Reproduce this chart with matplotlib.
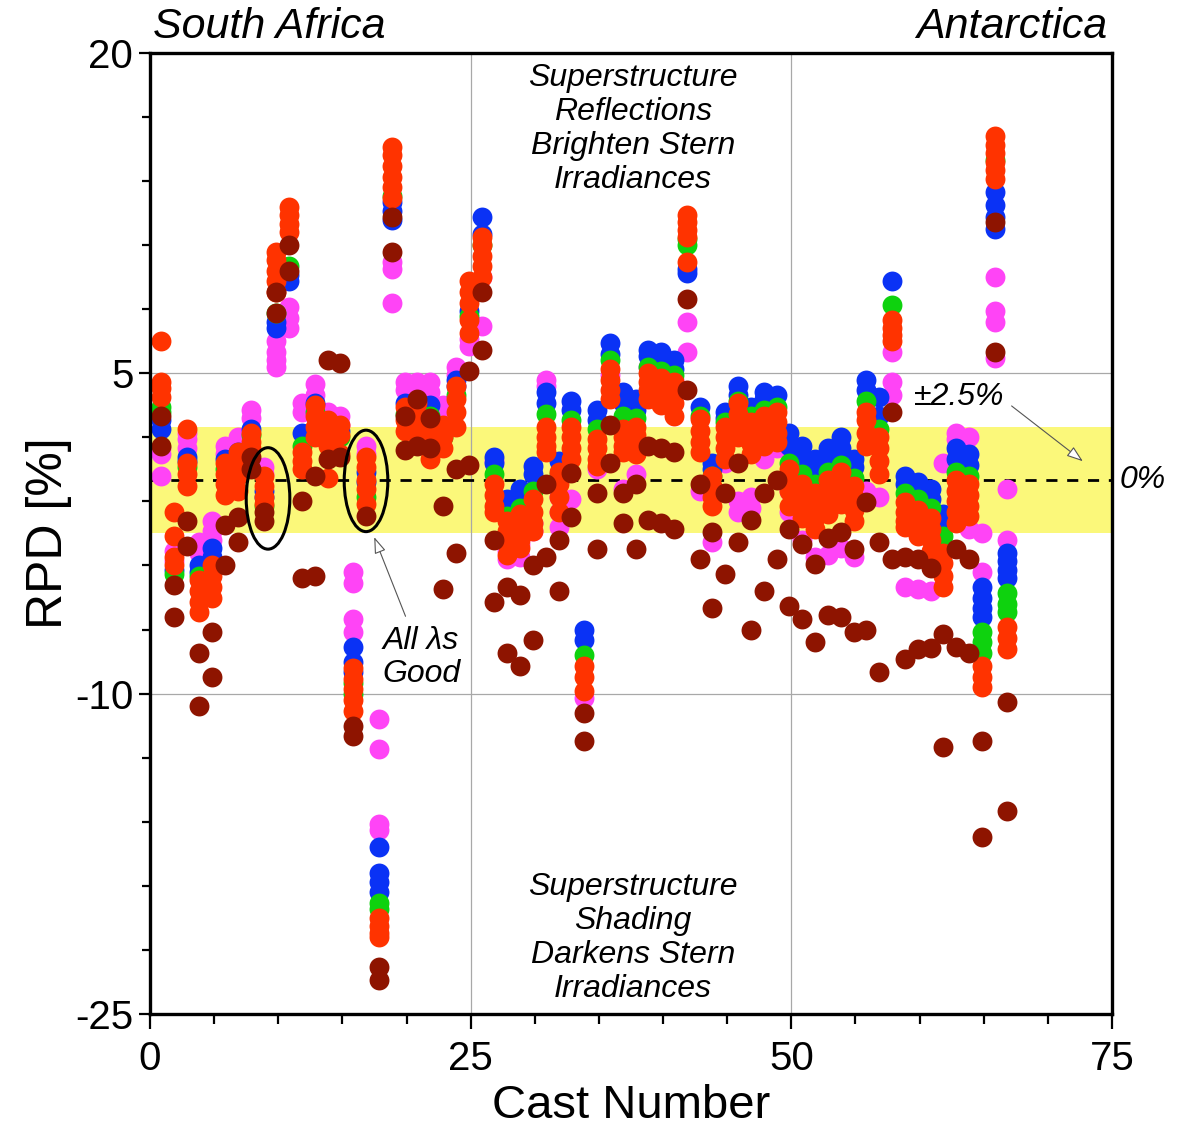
import matplotlib
matplotlib.use('Agg')
import matplotlib.pyplot as plt
import numpy as np
from matplotlib.patches import Ellipse
from matplotlib.ticker import MultipleLocator, FixedLocator

plt.rcParams['font.family'] = ['Liberation Sans', 'DejaVu Sans']
plt.rcParams['axes.unicode_minus'] = False

# cast numbers and RPD values per band group
casts = list(range(1, 68))

magenta = [
  [1.5, 1.2, 0.2], [-3.3, -3.8], [2.2, 1.9, 1.5], [-2.9, -3.4], [-1.9, -2.4, -2.8],
  [1.6, 1.2], [2.0, 1.6], [3.3, 2.9], [0.6, 0.3], [6.5, 6.0, 5.6, 5.3],
  [8.1, 7.6, 7.1], [3.6, 3.2], [4.5, 4.0], [3.2, 2.8], [3.0, 2.6],
  [-4.3, -4.8, -6.5, -7.1], [1.6, 1.2], [-11.2, -12.6, -16.1, -16.4], [10.2, 9.9, 8.3], [4.6, 4.2],
  [4.6, 4.3], [4.6, 4.1], [3.5, 3.1], [5.3, 4.9], [6.6, 6.3],
  [9.5, 7.2], [0.9], [-3.3, -3.7], [-3.0, -3.6], [-2.0, -2.4],
  [4.7, 4.4], [-0.8, -1.5, -2.2], [-0.9], [-10.2], [0.5],
  [4.9], [-0.4], [0.3], [5.3], [5.0],
  [4.7], [7.4, 6.0], [-0.5], [-2.9], [0.8],
  [-1.0, -1.5], [-0.8, -1.3], [1.0], [1.5], [-0.5, -1.5],
  [-2.8], [-3.6], [-3.5], [-3.2], [-3.6],
  [-0.5], [-0.8], [6.0, 4.6, 4.0], [-5.0], [-5.1],
  [-5.2], [0.8], [2.2, 1.9, -1.5], [2.0, -2.3], [-2.5, -4.3],
  [9.5, 7.9, 7.4, 5.7], [-0.4, -2.8],
]
blue = [
  [2.8, 2.4], [-4.2], [1.1, 0.9], [-4.0, -4.3], [-3.2, -3.6],
  [1.0], [1.3], [2.4], [-0.5, -0.8], [7.1, 7.4],
  [9.3, 9.6], [2.2], [3.6], [2.5], [2.3],
  [-7.8, -8.5, -9.0], [0.4, -0.1], [-17.2, -18.4, -18.8, -19.3], [12.6, 13.0, 12.2], [3.6],
  [3.5], [3.5], [2.5], [4.7, 4.4], [7.9],
  [12.3, 11.5], [1.1, 0.8], [-0.9, -1.4], [-0.4, -0.9], [0.65, 0.3],
  [4.1, 3.6], [0.9], [3.7, 3.3], [-7.0, -7.5], [3.3, 2.8],
  [6.4, 5.9], [4.1, 3.6], [3.8, 3.3], [6.1, 5.8], [6.0, 5.6],
  [5.6, 5.2], [9.7, 9.9], [3.4], [0.8, 0.5], [3.2, 2.9],
  [4.4, 4.0], [3.4], [4.1, 3.8], [4.0], [2.2, 1.6],
  [1.6, 1.0], [1.0, 0.5], [1.5, 0.9], [2.0, 1.5], [1.0, 0.6],
  [4.7, 4.2], [3.9, 3.0], [9.3], [0.2, -0.2], [-0.1, -0.5],
  [-0.4, -0.9], [-1.6, -2.0], [1.5, 1.0], [1.2, 0.7], [-5.0, -5.5, -6.0, -6.4],
  [13.5, 12.9, 12.3, 11.75], [-3.4, -3.8, -4.2, -4.6],
]
green = [
  [3.4, 3.2], [-4.4], [0.6], [-4.5], [-4.2],
  [0.5], [0.7], [2.1], [-1.2], [7.8],
  [10.0], [1.6], [3.2], [2.2], [2.0],
  [-9.5, -10.0], [-0.8], [-19.8, -20.1], [13.3], [3.1],
  [3.0], [3.0], [2.0], [4.0], [7.7],
  [11.0], [0.3], [-1.7], [-1.3], [-0.5],
  [3.1], [0.3], [2.8], [-8.2], [2.4],
  [5.6], [3.0], [2.9], [5.3], [5.1],
  [4.9], [11.0, 11.3], [3.0], [0.2], [2.7],
  [3.7], [3.0], [3.3], [3.4], [0.8],
  [0.3], [-0.2], [0.4], [0.7], [0.1],
  [3.7], [2.4], [8.2], [-0.6], [-0.9],
  [-1.3], [-2.6], [0.4], [0.2], [-7.1, -7.6, -8.1],
  [15.0], [-5.3, -5.8, -6.2],
]
red = [
  [6.5, 4.6, 4.3, 3.9], [-1.5, -2.6, -3.6, -4.0], [2.4, 0.8, 0.3, -0.3], [-4.7, -5.2, -5.7, -6.2], [-4.0, -4.5, -5.0, -5.5],
  [0.8, 0.3, -0.2, -0.7], [1.3, 0.8, 0.2, -0.5], [2.2, 1.8, 1.5], [0.2, -0.3, -0.8, -1.1], [10.7, 10.3, 9.8, 9.3, 8.8],
  [12.8, 12.4, 12.0, 11.6], [1.3, 0.9, 0.5], [3.5, 3.0, 2.5, 2.0], [2.8, 2.3, 1.6, 0.1], [2.6, 2.1, 1.2],
  [-8.8, -9.3, -9.8, -10.3, -10.8], [1.1, 0.6, 0.0, -0.4, -1.1], [-20.5, -20.9, -21.2, -21.4], [15.6, 15.2, 14.7, 14.2, 13.7, 13.2], [3.4, 2.8, 2.3],
  [3.6, 3.1, 2.6, 2.1], [2.5, 2.0, 1.5, 1.0], [2.6, 2.0, 1.5], [4.4, 3.8, 3.2, 2.5], [9.3, 8.8, 8.3, 7.5, 6.9],
  [11.4, 11.0, 10.5, 10.0, 9.5], [-0.2, -0.7, -1.2, -1.5], [-1.9, -2.4, -3.0, -3.5], [-1.6, -2.2, -2.8, -3.2], [-0.9, -1.5, -2.0, -2.4],
  [2.5, 2.0, 1.6, 1.3], [0.4, -0.2, -0.8, -1.5], [2.5, 2.0, 1.5, 1.0], [-8.7, -9.2, -9.9], [1.9, 1.5, 1.0, 0.65],
  [5.2, 4.7, 4.2, 3.8], [2.4, 2.0, 1.6, 1.3], [2.5, 2.1, 1.6, 1.2], [5.0, 4.6, 4.2, 3.8], [4.8, 4.4, 3.9, 3.5],
  [4.6, 4.1, 3.6, 3.0], [12.4, 12.1, 11.7, 11.4, 10.2], [2.85, 2.3, 1.8, 1.3], [0.2, -0.3, -0.8, -1.2], [2.5, 2.0, 1.5, 1.0],
  [3.6, 3.1, 2.5, 2.0], [2.7, 2.2, 1.7, 1.2], [3.0, 2.5, 2.0, 1.6], [3.2, 2.7, 2.2, 1.8], [0.5, 0.0, -0.5, -1.2],
  [-0.2, -0.7, -1.3, -1.8], [-0.6, -1.2, -1.8, -2.3], [0.0, -0.5, -1.0, -1.6], [0.4, -0.1, -0.6, -1.1], [-0.3, -0.8, -1.4, -1.9],
  [3.2, 2.8, 2.2, 1.6], [2.0, 1.5, 0.9, 0.3], [7.5, 7.1, 6.8, 6.5], [-1.05, -1.5, -1.9, -2.2], [-1.4, -1.8, -2.2, -2.6],
  [-1.8, -2.3, -2.8, -3.3], [-3.4, -3.9, -4.5, -5.0], [0.0, -0.5, -1.0, -1.5, -2.0], [-0.2, -0.7, -1.2, -1.7], [-8.7, -9.2, -9.7],
  [16.1, 15.7, 15.3, 14.9, 14.5, 14.1], [-6.9, -7.4, -7.9],
]
darkred = [
  [3.0, 1.6], [-4.9, -6.4], [-1.9, -3.1], [-8.1, -10.6], [-7.1, -9.2],
  [-2.1, -4.0], [-1.75, -2.9], [1.1, 0.5], [-1.5, -1.9], [8.8, 7.8],
  [11.0, 9.8], [-1.0, -4.6], [0.2, -4.5], [5.6, 1.0], [5.5, 1.1],
  [-11.5, -12.0], [-1.7], [-22.8, -23.4], [12.3, 10.7], [3.0, 1.4],
  [3.8, 1.6], [2.9, 1.5], [-1.2, -5.1], [0.5, -3.4], [5.1, 0.7],
  [8.8, 6.1], [-2.8, -5.7], [-5.0, -8.1], [-5.4, -8.7], [-4.0, -7.5],
  [-0.2, -3.6], [-2.8, -5.2], [0.35, -1.75], [-10.9, -12.2], [-0.6, -3.25],
  [2.6, 0.8], [-0.6, -2.0], [-0.2, -3.25], [1.6, -1.85], [1.5, -2.0],
  [1.3, -2.3], [8.5, 4.2], [-0.2, -3.7], [-2.45, -6.0], [-0.6, -4.4],
  [0.8, -2.9], [-1.85, -7.0], [-0.6, -5.2], [0.0, -3.7], [-2.3, -5.9],
  [-3.0, -6.5], [-3.95, -7.6], [-2.7, -6.3], [-2.45, -6.4], [-3.25, -7.1],
  [-1.05, -7.0], [-2.9, -9.0], [3.2, -3.7], [-3.6, -8.4], [-3.7, -7.9],
  [-4.1, -7.85], [-7.2, -12.5], [-3.25, -7.8], [-3.7, -8.1], [-12.2, -16.7],
  [12.1, 6.0], [-10.4, -15.5],
]

groups = [
  (magenta, '#ff44f6'),
  (blue, '#0a32f5'),
  (green, '#0ed20e'),
  (red, '#ff3300'),
  (darkred, '#8e1400'),
]

fig = plt.figure(figsize=(11.84, 11.26), dpi=100)
ax = fig.add_axes([0.1267, 0.0995, 0.8125, 0.8535])

ax.set_xlim(0, 75)
ax.set_ylim(-25, 20)

# background stuff
ax.axhspan(-2.5, 2.5, color='#fbf87a', zorder=0, lw=0)
for gx in (25, 50):
  ax.axvline(gx, color='#a8a8a8', lw=0.9, zorder=0.5)
for gy in (5, -10):
  ax.axhline(gy, color='#a8a8a8', lw=0.9, zorder=0.5)
ax.axhline(0, color='black', lw=2, ls=(0, (4, 3.5)), zorder=1)

for vals, col in groups:
  xs = []
  ys = []
  for c, v in zip(casts, vals):
    xs += [c - 0.15] * len(v)
    ys += v
  ax.scatter(xs, ys, s=205, color=col, lw=0, zorder=2)

# circled casts
for cx, cy in ((9.2, -0.86), (16.84, -0.04)):
  ax.add_patch(Ellipse((cx, cy), 3.4, 4.75, fill=False, ec='black', lw=2.2, zorder=3))

# text
ax.text(37.65, 16.44, 'Superstructure\nReflections\nBrighten Stern\nIrradiances',
        ha='center', va='center', style='italic', fontsize=23, linespacing=1.17)
ax.text(37.65, -21.46, 'Superstructure\nShading\nDarkens Stern\nIrradiances',
        ha='center', va='center', style='italic', fontsize=23, linespacing=1.17)
ax.text(18.1, -8.3, 'All \u03bbs\nGood', ha='left', va='center', style='italic',
        fontsize=23, linespacing=1.15)
ax.text(59.6, 3.9, '\u00b12.5%', ha='left', va='center', style='italic', fontsize=23)
ax.text(75.6, 0, '0%', ha='left', va='center', style='italic', fontsize=23, clip_on=False)
ax.text(0.003, 1.027, 'South Africa', transform=ax.transAxes, ha='left', va='center',
        style='italic', fontsize=31)
ax.text(0.995, 1.027, 'Antarctica', transform=ax.transAxes, ha='right', va='center',
        style='italic', fontsize=31)

arrow = dict(arrowstyle='-|>,head_length=1.0,head_width=0.35', fc='white', ec='#555555', lw=0.8)
ax.annotate('', xy=(72.9, 0.8), xytext=(67.0, 3.55), arrowprops=arrow, zorder=4)
ax.annotate('', xy=(17.4, -2.55), xytext=(20.0, -6.5), arrowprops=arrow, zorder=4)

# axes styling
ax.xaxis.set_major_locator(MultipleLocator(25))
ax.xaxis.set_minor_locator(MultipleLocator(5))
ax.yaxis.set_major_locator(FixedLocator([20, 5, -10, -25]))
ax.yaxis.set_minor_locator(FixedLocator(np.arange(-25, 21, 3)))
ax.tick_params(axis='x', which='major', length=11, width=1.6, labelsize=29, pad=8)
ax.tick_params(axis='x', which='minor', length=7, width=1.6)
ax.tick_params(axis='y', which='major', length=8, width=1.6, labelsize=29, pad=4)
ax.tick_params(axis='y', which='minor', length=6, width=1.6)
ax.tick_params(top=False, right=False)
for sp in ax.spines.values():
  sp.set_linewidth(2.4)

ax.set_xlabel('Cast Number', fontsize=34, labelpad=4)
ax.set_ylabel('RPD [%]', fontsize=36, labelpad=2)

plt.savefig('out.png', dpi=100)
